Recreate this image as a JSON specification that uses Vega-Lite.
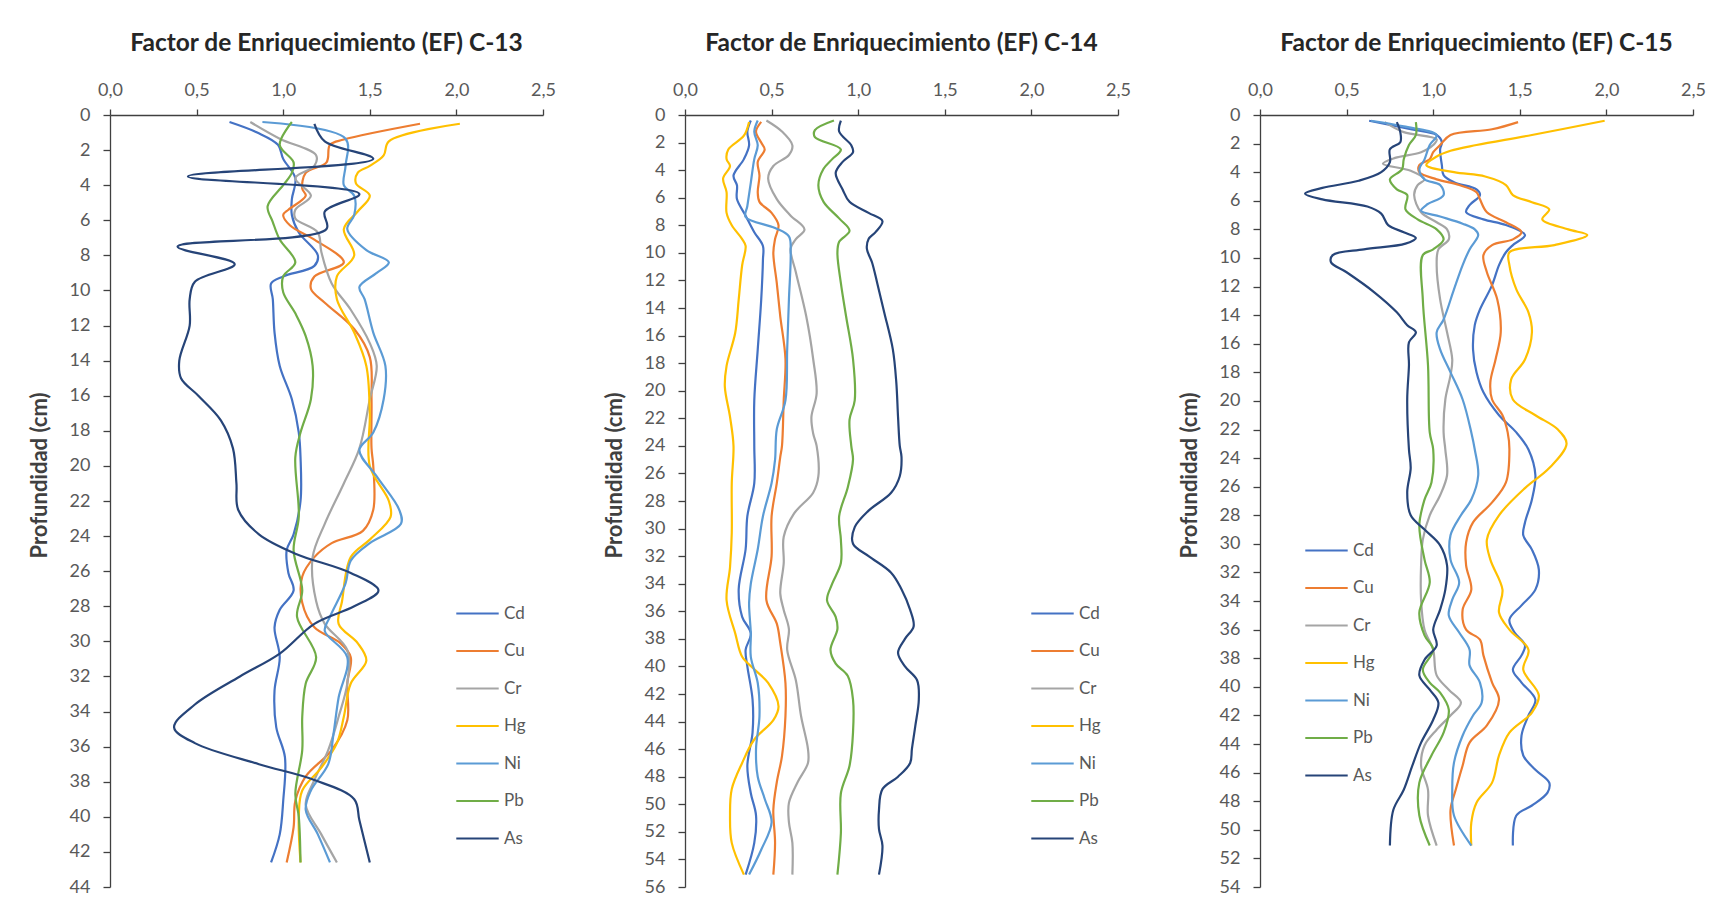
{
  "$schema": "https://vega.github.io/schema/vega-lite/v6.json",
  "padding": {"left": 28, "top": 30, "right": 5, "bottom": 5},
  "background": "white",
  "config": {
    "locale": {"number": {"decimal": ",", "thousands": ".", "grouping": [3], "currency": ["", " €"]}},
    "view": {"stroke": null},
    "font": "Lato",
    "title": {"font": "Lato", "fontSize": 24.5, "fontWeight": "bold", "color": "#262626", "offset": 25, "anchor": "middle"},
    "axis": {
      "grid": false,
      "labelFlush": false,
      "domainColor": "#404040",
      "tickColor": "#404040",
      "domainWidth": 1.3,
      "tickWidth": 1.3,
      "labelFont": "Lato",
      "labelFontSize": 18,
      "labelColor": "#595959",
      "titleFont": "Lato",
      "titleFontSize": 22,
      "titleFontWeight": "bold",
      "titleColor": "#404040"
    },
    "legend": {
      "orient": "none",
      "title": null,
      "symbolType": "stroke",
      "symbolStrokeWidth": 2.5,
      "symbolSize": 1800,
      "rowPadding": 6.5,
      "padding": 0,
      "labelFont": "Lato",
      "labelFontSize": 17,
      "labelColor": "#595959",
      "labelOffset": 4
    },
    "line": {"interpolate": "catmull-rom", "strokeWidth": 2.2}
  },
  "datasets": {
    "c13": [
      {"el":"Cd","depth":0.4,"ef":0.69},{"el":"Cd","depth":1.0,"ef":0.85},{"el":"Cd","depth":1.7,"ef":0.97},{"el":"Cd","depth":2.5,"ef":1.0},{"el":"Cd","depth":3.6,"ef":1.07},{"el":"Cd","depth":4.8,"ef":1.05},{"el":"Cd","depth":5.7,"ef":1.05},{"el":"Cd","depth":6.7,"ef":1.09},{"el":"Cd","depth":8.0,"ef":1.2},{"el":"Cd","depth":8.6,"ef":1.18},{"el":"Cd","depth":9.2,"ef":1.0},{"el":"Cd","depth":9.6,"ef":0.93},{"el":"Cd","depth":10.5,"ef":0.94},{"el":"Cd","depth":12.4,"ef":0.95},{"el":"Cd","depth":14.3,"ef":0.98},{"el":"Cd","depth":16.2,"ef":1.05},{"el":"Cd","depth":18.1,"ef":1.09},{"el":"Cd","depth":19.5,"ef":1.1},{"el":"Cd","depth":22.0,"ef":1.1},{"el":"Cd","depth":23.9,"ef":1.06},{"el":"Cd","depth":24.8,"ef":1.02},{"el":"Cd","depth":26.1,"ef":1.03},{"el":"Cd","depth":27.1,"ef":1.06},{"el":"Cd","depth":28.2,"ef":0.98},{"el":"Cd","depth":29.2,"ef":0.95},{"el":"Cd","depth":30.9,"ef":0.98},{"el":"Cd","depth":32.8,"ef":0.95},{"el":"Cd","depth":34.9,"ef":0.96},{"el":"Cd","depth":36.6,"ef":1.01},{"el":"Cd","depth":39.1,"ef":1.0},{"el":"Cd","depth":41.0,"ef":0.98},{"el":"Cd","depth":42.6,"ef":0.93},
      {"el":"Cu","depth":0.5,"ef":1.79},{"el":"Cu","depth":1.4,"ef":1.35},{"el":"Cu","depth":1.7,"ef":1.27},{"el":"Cu","depth":2.7,"ef":1.25},{"el":"Cu","depth":3.3,"ef":1.13},{"el":"Cu","depth":4.2,"ef":1.11},{"el":"Cu","depth":4.6,"ef":1.13},{"el":"Cu","depth":5.4,"ef":1.03},{"el":"Cu","depth":5.7,"ef":1.0},{"el":"Cu","depth":6.3,"ef":1.04},{"el":"Cu","depth":7.1,"ef":1.18},{"el":"Cu","depth":8.4,"ef":1.35},{"el":"Cu","depth":9.2,"ef":1.18},{"el":"Cu","depth":9.9,"ef":1.16},{"el":"Cu","depth":10.7,"ef":1.24},{"el":"Cu","depth":12.2,"ef":1.41},{"el":"Cu","depth":13.8,"ef":1.5},{"el":"Cu","depth":16.2,"ef":1.51},{"el":"Cu","depth":19.0,"ef":1.51},{"el":"Cu","depth":20.0,"ef":1.52},{"el":"Cu","depth":22.5,"ef":1.52},{"el":"Cu","depth":23.7,"ef":1.46},{"el":"Cu","depth":24.4,"ef":1.28},{"el":"Cu","depth":25.2,"ef":1.18},{"el":"Cu","depth":26.3,"ef":1.11},{"el":"Cu","depth":27.8,"ef":1.11},{"el":"Cu","depth":29.2,"ef":1.18},{"el":"Cu","depth":30.1,"ef":1.33},{"el":"Cu","depth":30.9,"ef":1.39},{"el":"Cu","depth":32.4,"ef":1.37},{"el":"Cu","depth":34.5,"ef":1.37},{"el":"Cu","depth":36.2,"ef":1.28},{"el":"Cu","depth":37.7,"ef":1.13},{"el":"Cu","depth":39.1,"ef":1.07},{"el":"Cu","depth":40.6,"ef":1.06},{"el":"Cu","depth":42.6,"ef":1.02},
      {"el":"Cr","depth":0.4,"ef":0.81},{"el":"Cr","depth":1.35,"ef":0.98},{"el":"Cr","depth":2.3,"ef":1.19},{"el":"Cr","depth":2.9,"ef":1.18},{"el":"Cr","depth":3.6,"ef":1.07},{"el":"Cr","depth":4.6,"ef":1.16},{"el":"Cr","depth":5.4,"ef":1.07},{"el":"Cr","depth":5.9,"ef":1.07},{"el":"Cr","depth":6.7,"ef":1.2},{"el":"Cr","depth":7.8,"ef":1.22},{"el":"Cr","depth":9.6,"ef":1.28},{"el":"Cr","depth":11.1,"ef":1.39},{"el":"Cr","depth":13.0,"ef":1.5},{"el":"Cr","depth":14.3,"ef":1.54},{"el":"Cr","depth":16.2,"ef":1.5},{"el":"Cr","depth":19.0,"ef":1.44},{"el":"Cr","depth":21.0,"ef":1.35},{"el":"Cr","depth":23.3,"ef":1.24},{"el":"Cr","depth":25.2,"ef":1.17},{"el":"Cr","depth":27.7,"ef":1.19},{"el":"Cr","depth":29.0,"ef":1.24},{"el":"Cr","depth":30.5,"ef":1.37},{"el":"Cr","depth":32.4,"ef":1.37},{"el":"Cr","depth":34.3,"ef":1.32},{"el":"Cr","depth":36.2,"ef":1.26},{"el":"Cr","depth":37.9,"ef":1.18},{"el":"Cr","depth":39.3,"ef":1.13},{"el":"Cr","depth":41.0,"ef":1.22},{"el":"Cr","depth":42.6,"ef":1.31},
      {"el":"Hg","depth":0.5,"ef":2.02},{"el":"Hg","depth":1.5,"ef":1.61},{"el":"Hg","depth":2.3,"ef":1.58},{"el":"Hg","depth":2.9,"ef":1.5},{"el":"Hg","depth":3.3,"ef":1.43},{"el":"Hg","depth":3.9,"ef":1.42},{"el":"Hg","depth":4.6,"ef":1.5},{"el":"Hg","depth":5.5,"ef":1.43},{"el":"Hg","depth":6.5,"ef":1.35},{"el":"Hg","depth":8.0,"ef":1.41},{"el":"Hg","depth":9.2,"ef":1.31},{"el":"Hg","depth":10.5,"ef":1.31},{"el":"Hg","depth":12.4,"ef":1.41},{"el":"Hg","depth":14.3,"ef":1.48},{"el":"Hg","depth":17.0,"ef":1.5},{"el":"Hg","depth":20.0,"ef":1.5},{"el":"Hg","depth":22.0,"ef":1.61},{"el":"Hg","depth":22.9,"ef":1.62},{"el":"Hg","depth":24.2,"ef":1.5},{"el":"Hg","depth":25.2,"ef":1.39},{"el":"Hg","depth":27.7,"ef":1.34},{"el":"Hg","depth":29.0,"ef":1.32},{"el":"Hg","depth":30.1,"ef":1.43},{"el":"Hg","depth":31.1,"ef":1.48},{"el":"Hg","depth":32.4,"ef":1.39},{"el":"Hg","depth":34.3,"ef":1.35},{"el":"Hg","depth":35.8,"ef":1.31},{"el":"Hg","depth":37.2,"ef":1.22},{"el":"Hg","depth":38.5,"ef":1.11},{"el":"Hg","depth":40.0,"ef":1.09},{"el":"Hg","depth":42.6,"ef":1.1},
      {"el":"Ni","depth":0.4,"ef":0.88},{"el":"Ni","depth":1.35,"ef":1.36},{"el":"Ni","depth":2.9,"ef":1.36},{"el":"Ni","depth":4.0,"ef":1.35},{"el":"Ni","depth":4.6,"ef":1.41},{"el":"Ni","depth":5.7,"ef":1.41},{"el":"Ni","depth":6.5,"ef":1.37},{"el":"Ni","depth":7.7,"ef":1.48},{"el":"Ni","depth":8.4,"ef":1.61},{"el":"Ni","depth":9.0,"ef":1.54},{"el":"Ni","depth":9.8,"ef":1.44},{"el":"Ni","depth":10.5,"ef":1.47},{"el":"Ni","depth":12.4,"ef":1.52},{"el":"Ni","depth":14.3,"ef":1.59},{"el":"Ni","depth":16.2,"ef":1.58},{"el":"Ni","depth":18.1,"ef":1.52},{"el":"Ni","depth":19.1,"ef":1.44},{"el":"Ni","depth":20.6,"ef":1.54},{"el":"Ni","depth":22.5,"ef":1.67},{"el":"Ni","depth":23.3,"ef":1.68},{"el":"Ni","depth":24.4,"ef":1.5},{"el":"Ni","depth":25.4,"ef":1.39},{"el":"Ni","depth":26.7,"ef":1.36},{"el":"Ni","depth":28.6,"ef":1.27},{"el":"Ni","depth":29.4,"ef":1.24},{"el":"Ni","depth":30.9,"ef":1.37},{"el":"Ni","depth":33.2,"ef":1.32},{"el":"Ni","depth":35.3,"ef":1.29},{"el":"Ni","depth":37.0,"ef":1.26},{"el":"Ni","depth":38.5,"ef":1.16},{"el":"Ni","depth":39.6,"ef":1.13},{"el":"Ni","depth":41.0,"ef":1.2},{"el":"Ni","depth":42.6,"ef":1.27},
      {"el":"Pb","depth":0.4,"ef":1.05},{"el":"Pb","depth":1.7,"ef":0.98},{"el":"Pb","depth":2.7,"ef":1.06},{"el":"Pb","depth":3.3,"ef":1.05},{"el":"Pb","depth":4.0,"ef":1.0},{"el":"Pb","depth":5.2,"ef":0.91},{"el":"Pb","depth":6.1,"ef":0.94},{"el":"Pb","depth":7.1,"ef":0.98},{"el":"Pb","depth":8.4,"ef":1.07},{"el":"Pb","depth":9.2,"ef":1.0},{"el":"Pb","depth":10.1,"ef":1.0},{"el":"Pb","depth":11.3,"ef":1.07},{"el":"Pb","depth":12.6,"ef":1.13},{"el":"Pb","depth":14.3,"ef":1.17},{"el":"Pb","depth":16.2,"ef":1.16},{"el":"Pb","depth":18.1,"ef":1.1},{"el":"Pb","depth":19.5,"ef":1.07},{"el":"Pb","depth":22.9,"ef":1.09},{"el":"Pb","depth":24.8,"ef":1.06},{"el":"Pb","depth":27.1,"ef":1.11},{"el":"Pb","depth":28.6,"ef":1.08},{"el":"Pb","depth":30.9,"ef":1.19},{"el":"Pb","depth":32.4,"ef":1.13},{"el":"Pb","depth":34.3,"ef":1.11},{"el":"Pb","depth":36.2,"ef":1.11},{"el":"Pb","depth":38.7,"ef":1.07},{"el":"Pb","depth":40.0,"ef":1.09},{"el":"Pb","depth":42.6,"ef":1.1},
      {"el":"As","depth":0.5,"ef":1.18},{"el":"As","depth":1.5,"ef":1.24},{"el":"As","depth":2.5,"ef":1.52},{"el":"As","depth":3.5,"ef":0.45},{"el":"As","depth":4.5,"ef":1.44},{"el":"As","depth":5.5,"ef":1.24},{"el":"As","depth":6.5,"ef":1.25},{"el":"As","depth":7.5,"ef":0.39},{"el":"As","depth":8.5,"ef":0.72},{"el":"As","depth":9.5,"ef":0.49},{"el":"As","depth":10.5,"ef":0.46},{"el":"As","depth":12.0,"ef":0.46},{"el":"As","depth":14.0,"ef":0.4},{"el":"As","depth":15.0,"ef":0.41},{"el":"As","depth":16.0,"ef":0.51},{"el":"As","depth":17.4,"ef":0.64},{"el":"As","depth":19.0,"ef":0.71},{"el":"As","depth":21.0,"ef":0.73},{"el":"As","depth":22.5,"ef":0.74},{"el":"As","depth":23.9,"ef":0.86},{"el":"As","depth":25.0,"ef":1.07},{"el":"As","depth":26.1,"ef":1.39},{"el":"As","depth":27.1,"ef":1.55},{"el":"As","depth":28.0,"ef":1.41},{"el":"As","depth":29.0,"ef":1.18},{"el":"As","depth":30.7,"ef":0.98},{"el":"As","depth":32.0,"ef":0.75},{"el":"As","depth":33.6,"ef":0.49},{"el":"As","depth":34.9,"ef":0.37},{"el":"As","depth":35.8,"ef":0.49},{"el":"As","depth":37.0,"ef":0.86},{"el":"As","depth":37.9,"ef":1.18},{"el":"As","depth":39.0,"ef":1.41},{"el":"As","depth":40.2,"ef":1.44},{"el":"As","depth":42.6,"ef":1.5}
    ],
    "c14": [
      {"el":"Cd","depth":0.4,"ef":0.38},{"el":"Cd","depth":1.2,"ef":0.36},{"el":"Cd","depth":2.2,"ef":0.37},{"el":"Cd","depth":3.2,"ef":0.34},{"el":"Cd","depth":4.4,"ef":0.28},{"el":"Cd","depth":5.1,"ef":0.3},{"el":"Cd","depth":6.1,"ef":0.3},{"el":"Cd","depth":7.3,"ef":0.35},{"el":"Cd","depth":8.5,"ef":0.4},{"el":"Cd","depth":9.5,"ef":0.45},{"el":"Cd","depth":10.5,"ef":0.45},{"el":"Cd","depth":13.4,"ef":0.44},{"el":"Cd","depth":17.0,"ef":0.42},{"el":"Cd","depth":20.7,"ef":0.4},{"el":"Cd","depth":24.0,"ef":0.4},{"el":"Cd","depth":26.7,"ef":0.4},{"el":"Cd","depth":29.1,"ef":0.36},{"el":"Cd","depth":31.5,"ef":0.35},{"el":"Cd","depth":34.4,"ef":0.31},{"el":"Cd","depth":36.4,"ef":0.33},{"el":"Cd","depth":37.6,"ef":0.38},{"el":"Cd","depth":38.8,"ef":0.35},{"el":"Cd","depth":40.0,"ef":0.36},{"el":"Cd","depth":42.4,"ef":0.39},{"el":"Cd","depth":44.8,"ef":0.39},{"el":"Cd","depth":47.2,"ef":0.36},{"el":"Cd","depth":49.2,"ef":0.38},{"el":"Cd","depth":50.8,"ef":0.41},{"el":"Cd","depth":52.8,"ef":0.4},{"el":"Cd","depth":55.1,"ef":0.35},
      {"el":"Cu","depth":0.5,"ef":0.44},{"el":"Cu","depth":1.2,"ef":0.41},{"el":"Cu","depth":2.0,"ef":0.44},{"el":"Cu","depth":2.5,"ef":0.46},{"el":"Cu","depth":3.4,"ef":0.42},{"el":"Cu","depth":4.4,"ef":0.43},{"el":"Cu","depth":5.6,"ef":0.42},{"el":"Cu","depth":6.3,"ef":0.43},{"el":"Cu","depth":7.1,"ef":0.5},{"el":"Cu","depth":8.0,"ef":0.54},{"el":"Cu","depth":9.0,"ef":0.52},{"el":"Cu","depth":10.0,"ef":0.51},{"el":"Cu","depth":12.2,"ef":0.53},{"el":"Cu","depth":14.6,"ef":0.55},{"el":"Cu","depth":17.7,"ef":0.58},{"el":"Cu","depth":20.7,"ef":0.57},{"el":"Cu","depth":24.0,"ef":0.56},{"el":"Cu","depth":24.8,"ef":0.55},{"el":"Cu","depth":26.7,"ef":0.53},{"el":"Cu","depth":29.1,"ef":0.5},{"el":"Cu","depth":32.0,"ef":0.5},{"el":"Cu","depth":35.2,"ef":0.47},{"el":"Cu","depth":36.9,"ef":0.53},{"el":"Cu","depth":38.3,"ef":0.55},{"el":"Cu","depth":41.2,"ef":0.58},{"el":"Cu","depth":43.6,"ef":0.58},{"el":"Cu","depth":46.5,"ef":0.56},{"el":"Cu","depth":48.4,"ef":0.53},{"el":"Cu","depth":50.4,"ef":0.51},{"el":"Cu","depth":52.8,"ef":0.52},{"el":"Cu","depth":55.1,"ef":0.51},
      {"el":"Cr","depth":0.4,"ef":0.47},{"el":"Cr","depth":1.2,"ef":0.56},{"el":"Cr","depth":2.2,"ef":0.62},{"el":"Cr","depth":2.9,"ef":0.6},{"el":"Cr","depth":3.7,"ef":0.51},{"el":"Cr","depth":4.6,"ef":0.48},{"el":"Cr","depth":6.1,"ef":0.53},{"el":"Cr","depth":7.3,"ef":0.61},{"el":"Cr","depth":8.3,"ef":0.69},{"el":"Cr","depth":9.0,"ef":0.64},{"el":"Cr","depth":9.7,"ef":0.61},{"el":"Cr","depth":11.4,"ef":0.64},{"el":"Cr","depth":14.6,"ef":0.7},{"el":"Cr","depth":17.7,"ef":0.74},{"el":"Cr","depth":20.2,"ef":0.76},{"el":"Cr","depth":21.9,"ef":0.73},{"el":"Cr","depth":23.1,"ef":0.74},{"el":"Cr","depth":24.0,"ef":0.76},{"el":"Cr","depth":26.2,"ef":0.77},{"el":"Cr","depth":27.4,"ef":0.74},{"el":"Cr","depth":28.9,"ef":0.63},{"el":"Cr","depth":30.6,"ef":0.57},{"el":"Cr","depth":32.5,"ef":0.57},{"el":"Cr","depth":34.7,"ef":0.55},{"el":"Cr","depth":35.9,"ef":0.57},{"el":"Cr","depth":37.3,"ef":0.6},{"el":"Cr","depth":38.8,"ef":0.59},{"el":"Cr","depth":41.0,"ef":0.64},{"el":"Cr","depth":43.6,"ef":0.67},{"el":"Cr","depth":46.0,"ef":0.71},{"el":"Cr","depth":47.0,"ef":0.71},{"el":"Cr","depth":48.4,"ef":0.65},{"el":"Cr","depth":49.9,"ef":0.6},{"el":"Cr","depth":51.3,"ef":0.6},{"el":"Cr","depth":52.8,"ef":0.62},{"el":"Cr","depth":55.1,"ef":0.62},
      {"el":"Hg","depth":0.5,"ef":0.37},{"el":"Hg","depth":1.5,"ef":0.34},{"el":"Hg","depth":2.5,"ef":0.25},{"el":"Hg","depth":3.2,"ef":0.24},{"el":"Hg","depth":3.7,"ef":0.26},{"el":"Hg","depth":4.6,"ef":0.22},{"el":"Hg","depth":5.6,"ef":0.24},{"el":"Hg","depth":7.1,"ef":0.24},{"el":"Hg","depth":8.0,"ef":0.27},{"el":"Hg","depth":9.0,"ef":0.33},{"el":"Hg","depth":9.5,"ef":0.35},{"el":"Hg","depth":10.9,"ef":0.33},{"el":"Hg","depth":13.4,"ef":0.31},{"el":"Hg","depth":15.8,"ef":0.29},{"el":"Hg","depth":18.2,"ef":0.24},{"el":"Hg","depth":19.7,"ef":0.23},{"el":"Hg","depth":21.9,"ef":0.26},{"el":"Hg","depth":24.0,"ef":0.28},{"el":"Hg","depth":26.7,"ef":0.27},{"el":"Hg","depth":30.3,"ef":0.27},{"el":"Hg","depth":32.8,"ef":0.26},{"el":"Hg","depth":35.2,"ef":0.24},{"el":"Hg","depth":37.6,"ef":0.29},{"el":"Hg","depth":39.3,"ef":0.33},{"el":"Hg","depth":40.2,"ef":0.4},{"el":"Hg","depth":41.2,"ef":0.48},{"el":"Hg","depth":42.9,"ef":0.54},{"el":"Hg","depth":43.9,"ef":0.51},{"el":"Hg","depth":45.3,"ef":0.4},{"el":"Hg","depth":47.0,"ef":0.33},{"el":"Hg","depth":48.9,"ef":0.27},{"el":"Hg","depth":50.8,"ef":0.26},{"el":"Hg","depth":52.8,"ef":0.27},{"el":"Hg","depth":55.1,"ef":0.34},
      {"el":"Ni","depth":0.4,"ef":0.42},{"el":"Ni","depth":1.2,"ef":0.4},{"el":"Ni","depth":2.2,"ef":0.42},{"el":"Ni","depth":3.2,"ef":0.4},{"el":"Ni","depth":4.9,"ef":0.38},{"el":"Ni","depth":6.6,"ef":0.36},{"el":"Ni","depth":7.4,"ef":0.35},{"el":"Ni","depth":8.2,"ef":0.52},{"el":"Ni","depth":8.8,"ef":0.6},{"el":"Ni","depth":10.0,"ef":0.61},{"el":"Ni","depth":13.4,"ef":0.6},{"el":"Ni","depth":17.0,"ef":0.59},{"el":"Ni","depth":20.7,"ef":0.58},{"el":"Ni","depth":22.8,"ef":0.53},{"el":"Ni","depth":25.0,"ef":0.52},{"el":"Ni","depth":26.7,"ef":0.5},{"el":"Ni","depth":29.1,"ef":0.45},{"el":"Ni","depth":31.5,"ef":0.42},{"el":"Ni","depth":34.0,"ef":0.38},{"el":"Ni","depth":35.4,"ef":0.37},{"el":"Ni","depth":37.6,"ef":0.38},{"el":"Ni","depth":39.3,"ef":0.38},{"el":"Ni","depth":41.2,"ef":0.42},{"el":"Ni","depth":43.6,"ef":0.43},{"el":"Ni","depth":46.0,"ef":0.41},{"el":"Ni","depth":48.0,"ef":0.42},{"el":"Ni","depth":49.6,"ef":0.46},{"el":"Ni","depth":51.3,"ef":0.5},{"el":"Ni","depth":53.3,"ef":0.44},{"el":"Ni","depth":55.1,"ef":0.37},
      {"el":"Pb","depth":0.4,"ef":0.86},{"el":"Pb","depth":1.1,"ef":0.75},{"el":"Pb","depth":1.6,"ef":0.75},{"el":"Pb","depth":2.5,"ef":0.9},{"el":"Pb","depth":3.2,"ef":0.85},{"el":"Pb","depth":3.9,"ef":0.8},{"el":"Pb","depth":5.1,"ef":0.77},{"el":"Pb","depth":6.3,"ef":0.8},{"el":"Pb","depth":7.5,"ef":0.89},{"el":"Pb","depth":8.4,"ef":0.95},{"el":"Pb","depth":9.2,"ef":0.89},{"el":"Pb","depth":10.0,"ef":0.88},{"el":"Pb","depth":12.2,"ef":0.9},{"el":"Pb","depth":14.6,"ef":0.93},{"el":"Pb","depth":17.7,"ef":0.97},{"el":"Pb","depth":20.7,"ef":0.98},{"el":"Pb","depth":22.1,"ef":0.95},{"el":"Pb","depth":24.0,"ef":0.96},{"el":"Pb","depth":25.0,"ef":0.97},{"el":"Pb","depth":27.0,"ef":0.94},{"el":"Pb","depth":29.1,"ef":0.89},{"el":"Pb","depth":30.8,"ef":0.9},{"el":"Pb","depth":32.5,"ef":0.9},{"el":"Pb","depth":34.0,"ef":0.85},{"el":"Pb","depth":35.2,"ef":0.82},{"el":"Pb","depth":36.4,"ef":0.87},{"el":"Pb","depth":37.3,"ef":0.88},{"el":"Pb","depth":38.8,"ef":0.84},{"el":"Pb","depth":39.8,"ef":0.87},{"el":"Pb","depth":40.7,"ef":0.94},{"el":"Pb","depth":42.4,"ef":0.97},{"el":"Pb","depth":44.8,"ef":0.97},{"el":"Pb","depth":47.2,"ef":0.95},{"el":"Pb","depth":49.2,"ef":0.9},{"el":"Pb","depth":52.1,"ef":0.9},{"el":"Pb","depth":55.1,"ef":0.88},
      {"el":"As","depth":0.4,"ef":0.9},{"el":"As","depth":1.2,"ef":0.89},{"el":"As","depth":2.2,"ef":0.96},{"el":"As","depth":2.7,"ef":0.97},{"el":"As","depth":3.4,"ef":0.91},{"el":"As","depth":4.2,"ef":0.87},{"el":"As","depth":5.4,"ef":0.91},{"el":"As","depth":6.3,"ef":0.95},{"el":"As","depth":7.1,"ef":1.06},{"el":"As","depth":7.7,"ef":1.14},{"el":"As","depth":8.5,"ef":1.1},{"el":"As","depth":9.0,"ef":1.06},{"el":"As","depth":9.7,"ef":1.05},{"el":"As","depth":10.7,"ef":1.08},{"el":"As","depth":12.2,"ef":1.11},{"el":"As","depth":14.3,"ef":1.15},{"el":"As","depth":17.0,"ef":1.2},{"el":"As","depth":19.4,"ef":1.22},{"el":"As","depth":21.9,"ef":1.23},{"el":"As","depth":24.0,"ef":1.24},{"el":"As","depth":24.8,"ef":1.25},{"el":"As","depth":26.2,"ef":1.24},{"el":"As","depth":27.4,"ef":1.19},{"el":"As","depth":28.7,"ef":1.06},{"el":"As","depth":29.9,"ef":0.98},{"el":"As","depth":31.1,"ef":0.97},{"el":"As","depth":32.0,"ef":1.06},{"el":"As","depth":33.2,"ef":1.19},{"el":"As","depth":34.4,"ef":1.25},{"el":"As","depth":35.9,"ef":1.3},{"el":"As","depth":37.1,"ef":1.32},{"el":"As","depth":38.0,"ef":1.27},{"el":"As","depth":39.0,"ef":1.23},{"el":"As","depth":40.0,"ef":1.27},{"el":"As","depth":41.0,"ef":1.34},{"el":"As","depth":42.4,"ef":1.35},{"el":"As","depth":44.3,"ef":1.33},{"el":"As","depth":46.0,"ef":1.31},{"el":"As","depth":47.0,"ef":1.3},{"el":"As","depth":48.0,"ef":1.23},{"el":"As","depth":48.9,"ef":1.14},{"el":"As","depth":50.4,"ef":1.12},{"el":"As","depth":51.8,"ef":1.12},{"el":"As","depth":53.0,"ef":1.14},{"el":"As","depth":55.1,"ef":1.12}
    ],
    "c15": [
      {"el":"Cd","depth":0.4,"ef":0.63},{"el":"Cd","depth":1.0,"ef":0.87},{"el":"Cd","depth":1.4,"ef":1.02},{"el":"Cd","depth":1.9,"ef":1.05},{"el":"Cd","depth":2.4,"ef":1.04},{"el":"Cd","depth":3.5,"ef":1.05},{"el":"Cd","depth":4.2,"ef":1.06},{"el":"Cd","depth":4.7,"ef":1.12},{"el":"Cd","depth":5.2,"ef":1.25},{"el":"Cd","depth":5.6,"ef":1.27},{"el":"Cd","depth":6.3,"ef":1.21},{"el":"Cd","depth":6.8,"ef":1.19},{"el":"Cd","depth":7.3,"ef":1.29},{"el":"Cd","depth":7.7,"ef":1.42},{"el":"Cd","depth":8.4,"ef":1.53},{"el":"Cd","depth":9.1,"ef":1.46},{"el":"Cd","depth":9.6,"ef":1.42},{"el":"Cd","depth":10.5,"ef":1.38},{"el":"Cd","depth":11.9,"ef":1.34},{"el":"Cd","depth":13.6,"ef":1.27},{"el":"Cd","depth":14.7,"ef":1.24},{"el":"Cd","depth":16.4,"ef":1.23},{"el":"Cd","depth":18.0,"ef":1.25},{"el":"Cd","depth":19.4,"ef":1.29},{"el":"Cd","depth":21.0,"ef":1.38},{"el":"Cd","depth":22.2,"ef":1.48},{"el":"Cd","depth":23.4,"ef":1.55},{"el":"Cd","depth":25.2,"ef":1.59},{"el":"Cd","depth":26.9,"ef":1.57},{"el":"Cd","depth":28.5,"ef":1.53},{"el":"Cd","depth":29.4,"ef":1.52},{"el":"Cd","depth":30.4,"ef":1.57},{"el":"Cd","depth":31.8,"ef":1.61},{"el":"Cd","depth":33.2,"ef":1.59},{"el":"Cd","depth":34.3,"ef":1.51},{"el":"Cd","depth":35.3,"ef":1.44},{"el":"Cd","depth":36.2,"ef":1.47},{"el":"Cd","depth":37.1,"ef":1.53},{"el":"Cd","depth":37.8,"ef":1.51},{"el":"Cd","depth":38.8,"ef":1.46},{"el":"Cd","depth":39.7,"ef":1.51},{"el":"Cd","depth":40.9,"ef":1.59},{"el":"Cd","depth":42.0,"ef":1.55},{"el":"Cd","depth":43.4,"ef":1.51},{"el":"Cd","depth":44.8,"ef":1.52},{"el":"Cd","depth":45.8,"ef":1.59},{"el":"Cd","depth":46.7,"ef":1.67},{"el":"Cd","depth":47.4,"ef":1.66},{"el":"Cd","depth":48.3,"ef":1.57},{"el":"Cd","depth":49.0,"ef":1.48},{"el":"Cd","depth":51.1,"ef":1.46},
      {"el":"Cu","depth":0.5,"ef":1.49},{"el":"Cu","depth":1.0,"ef":1.34},{"el":"Cu","depth":1.4,"ef":1.1},{"el":"Cu","depth":2.1,"ef":1.04},{"el":"Cu","depth":2.6,"ef":1.0},{"el":"Cu","depth":3.1,"ef":0.98},{"el":"Cu","depth":3.5,"ef":0.92},{"el":"Cu","depth":4.0,"ef":0.92},{"el":"Cu","depth":4.5,"ef":1.02},{"el":"Cu","depth":4.9,"ef":1.15},{"el":"Cu","depth":5.4,"ef":1.25},{"el":"Cu","depth":5.9,"ef":1.27},{"el":"Cu","depth":6.8,"ef":1.31},{"el":"Cu","depth":7.5,"ef":1.42},{"el":"Cu","depth":8.2,"ef":1.51},{"el":"Cu","depth":8.7,"ef":1.46},{"el":"Cu","depth":9.1,"ef":1.34},{"el":"Cu","depth":9.8,"ef":1.29},{"el":"Cu","depth":11.0,"ef":1.31},{"el":"Cu","depth":12.9,"ef":1.37},{"el":"Cu","depth":15.2,"ef":1.39},{"el":"Cu","depth":17.1,"ef":1.36},{"el":"Cu","depth":18.7,"ef":1.33},{"el":"Cu","depth":19.9,"ef":1.34},{"el":"Cu","depth":21.0,"ef":1.4},{"el":"Cu","depth":22.2,"ef":1.43},{"el":"Cu","depth":23.4,"ef":1.44},{"el":"Cu","depth":25.7,"ef":1.42},{"el":"Cu","depth":27.1,"ef":1.34},{"el":"Cu","depth":28.5,"ef":1.23},{"el":"Cu","depth":29.9,"ef":1.19},{"el":"Cu","depth":31.5,"ef":1.19},{"el":"Cu","depth":33.2,"ef":1.22},{"el":"Cu","depth":34.6,"ef":1.17},{"el":"Cu","depth":36.0,"ef":1.19},{"el":"Cu","depth":36.7,"ef":1.27},{"el":"Cu","depth":37.8,"ef":1.29},{"el":"Cu","depth":39.7,"ef":1.34},{"el":"Cu","depth":40.9,"ef":1.38},{"el":"Cu","depth":42.7,"ef":1.31},{"el":"Cu","depth":43.9,"ef":1.21},{"el":"Cu","depth":45.5,"ef":1.17},{"el":"Cu","depth":47.2,"ef":1.13},{"el":"Cu","depth":48.6,"ef":1.1},{"el":"Cu","depth":51.1,"ef":1.12},
      {"el":"Cr","depth":0.5,"ef":0.72},{"el":"Cr","depth":1.2,"ef":0.83},{"el":"Cr","depth":1.7,"ef":1.02},{"el":"Cr","depth":2.1,"ef":1.0},{"el":"Cr","depth":2.6,"ef":0.93},{"el":"Cr","depth":3.0,"ef":0.78},{"el":"Cr","depth":3.4,"ef":0.71},{"el":"Cr","depth":3.9,"ef":0.87},{"el":"Cr","depth":4.5,"ef":0.95},{"el":"Cr","depth":4.9,"ef":0.91},{"el":"Cr","depth":5.6,"ef":0.89},{"el":"Cr","depth":6.8,"ef":0.93},{"el":"Cr","depth":7.5,"ef":1.02},{"el":"Cr","depth":8.0,"ef":1.08},{"el":"Cr","depth":8.7,"ef":1.09},{"el":"Cr","depth":9.4,"ef":1.03},{"el":"Cr","depth":10.5,"ef":1.02},{"el":"Cr","depth":12.9,"ef":1.04},{"el":"Cr","depth":15.2,"ef":1.08},{"el":"Cr","depth":17.1,"ef":1.11},{"el":"Cr","depth":18.2,"ef":1.1},{"el":"Cr","depth":19.9,"ef":1.07},{"el":"Cr","depth":22.2,"ef":1.06},{"el":"Cr","depth":23.4,"ef":1.07},{"el":"Cr","depth":25.2,"ef":1.08},{"el":"Cr","depth":26.6,"ef":1.04},{"el":"Cr","depth":28.0,"ef":0.98},{"el":"Cr","depth":29.7,"ef":0.94},{"el":"Cr","depth":31.5,"ef":0.93},{"el":"Cr","depth":33.9,"ef":0.93},{"el":"Cr","depth":36.0,"ef":0.95},{"el":"Cr","depth":37.4,"ef":1.0},{"el":"Cr","depth":39.2,"ef":1.02},{"el":"Cr","depth":40.2,"ef":1.09},{"el":"Cr","depth":41.1,"ef":1.16},{"el":"Cr","depth":42.0,"ef":1.1},{"el":"Cr","depth":43.0,"ef":1.02},{"el":"Cr","depth":44.1,"ef":0.95},{"el":"Cr","depth":45.5,"ef":0.93},{"el":"Cr","depth":47.2,"ef":0.97},{"el":"Cr","depth":49.0,"ef":0.97},{"el":"Cr","depth":51.1,"ef":1.02},
      {"el":"Hg","depth":0.4,"ef":1.99},{"el":"Hg","depth":1.4,"ef":1.57},{"el":"Hg","depth":2.1,"ef":1.25},{"el":"Hg","depth":2.5,"ef":1.1},{"el":"Hg","depth":2.9,"ef":1.02},{"el":"Hg","depth":3.5,"ef":0.96},{"el":"Hg","depth":4.0,"ef":1.12},{"el":"Hg","depth":4.3,"ef":1.3},{"el":"Hg","depth":4.9,"ef":1.42},{"el":"Hg","depth":5.6,"ef":1.46},{"el":"Hg","depth":6.1,"ef":1.57},{"el":"Hg","depth":6.6,"ef":1.67},{"el":"Hg","depth":7.3,"ef":1.63},{"el":"Hg","depth":8.0,"ef":1.78},{"el":"Hg","depth":8.4,"ef":1.89},{"el":"Hg","depth":9.1,"ef":1.7},{"el":"Hg","depth":9.6,"ef":1.44},{"el":"Hg","depth":10.5,"ef":1.44},{"el":"Hg","depth":12.2,"ef":1.48},{"el":"Hg","depth":13.8,"ef":1.55},{"el":"Hg","depth":15.2,"ef":1.57},{"el":"Hg","depth":17.1,"ef":1.53},{"el":"Hg","depth":18.5,"ef":1.45},{"el":"Hg","depth":19.9,"ef":1.46},{"el":"Hg","depth":21.0,"ef":1.59},{"el":"Hg","depth":22.0,"ef":1.72},{"el":"Hg","depth":23.0,"ef":1.77},{"el":"Hg","depth":24.7,"ef":1.67},{"el":"Hg","depth":26.1,"ef":1.53},{"el":"Hg","depth":28.0,"ef":1.38},{"el":"Hg","depth":29.7,"ef":1.31},{"el":"Hg","depth":31.1,"ef":1.33},{"el":"Hg","depth":33.2,"ef":1.4},{"el":"Hg","depth":34.8,"ef":1.38},{"el":"Hg","depth":36.0,"ef":1.44},{"el":"Hg","depth":37.4,"ef":1.55},{"el":"Hg","depth":38.8,"ef":1.52},{"el":"Hg","depth":40.6,"ef":1.61},{"el":"Hg","depth":41.8,"ef":1.57},{"el":"Hg","depth":43.2,"ef":1.44},{"el":"Hg","depth":44.8,"ef":1.38},{"el":"Hg","depth":46.7,"ef":1.34},{"el":"Hg","depth":48.1,"ef":1.25},{"el":"Hg","depth":49.5,"ef":1.22},{"el":"Hg","depth":51.1,"ef":1.22},
      {"el":"Ni","depth":0.4,"ef":0.64},{"el":"Ni","depth":0.8,"ef":0.83},{"el":"Ni","depth":1.4,"ef":1.02},{"el":"Ni","depth":2.1,"ef":0.98},{"el":"Ni","depth":3.1,"ef":0.95},{"el":"Ni","depth":3.8,"ef":0.92},{"el":"Ni","depth":4.5,"ef":0.95},{"el":"Ni","depth":4.9,"ef":1.04},{"el":"Ni","depth":5.6,"ef":1.06},{"el":"Ni","depth":6.3,"ef":0.96},{"el":"Ni","depth":6.7,"ef":0.93},{"el":"Ni","depth":7.1,"ef":1.04},{"el":"Ni","depth":7.6,"ef":1.17},{"el":"Ni","depth":8.0,"ef":1.24},{"el":"Ni","depth":8.4,"ef":1.26},{"el":"Ni","depth":9.4,"ef":1.21},{"el":"Ni","depth":10.5,"ef":1.17},{"el":"Ni","depth":12.2,"ef":1.12},{"el":"Ni","depth":14.3,"ef":1.06},{"el":"Ni","depth":15.2,"ef":1.02},{"el":"Ni","depth":16.4,"ef":1.04},{"el":"Ni","depth":18.0,"ef":1.1},{"el":"Ni","depth":19.9,"ef":1.17},{"el":"Ni","depth":22.2,"ef":1.22},{"el":"Ni","depth":23.4,"ef":1.24},{"el":"Ni","depth":25.2,"ef":1.26},{"el":"Ni","depth":26.9,"ef":1.22},{"el":"Ni","depth":28.0,"ef":1.16},{"el":"Ni","depth":29.4,"ef":1.1},{"el":"Ni","depth":31.1,"ef":1.1},{"el":"Ni","depth":32.7,"ef":1.15},{"el":"Ni","depth":33.9,"ef":1.11},{"el":"Ni","depth":35.0,"ef":1.09},{"el":"Ni","depth":36.2,"ef":1.15},{"el":"Ni","depth":37.4,"ef":1.21},{"el":"Ni","depth":38.5,"ef":1.21},{"el":"Ni","depth":39.7,"ef":1.27},{"el":"Ni","depth":41.1,"ef":1.28},{"el":"Ni","depth":42.0,"ef":1.23},{"el":"Ni","depth":43.4,"ef":1.17},{"el":"Ni","depth":45.3,"ef":1.12},{"el":"Ni","depth":47.2,"ef":1.11},{"el":"Ni","depth":49.0,"ef":1.12},{"el":"Ni","depth":51.1,"ef":1.22},
      {"el":"Pb","depth":0.5,"ef":0.9},{"el":"Pb","depth":1.4,"ef":0.9},{"el":"Pb","depth":2.1,"ef":0.86},{"el":"Pb","depth":3.1,"ef":0.83},{"el":"Pb","depth":3.8,"ef":0.82},{"el":"Pb","depth":4.5,"ef":0.75},{"el":"Pb","depth":5.2,"ef":0.79},{"el":"Pb","depth":5.6,"ef":0.85},{"el":"Pb","depth":6.6,"ef":0.84},{"el":"Pb","depth":7.3,"ef":0.91},{"el":"Pb","depth":8.0,"ef":1.02},{"el":"Pb","depth":8.7,"ef":1.06},{"el":"Pb","depth":9.4,"ef":1.0},{"el":"Pb","depth":9.8,"ef":0.94},{"el":"Pb","depth":12.9,"ef":0.94},{"el":"Pb","depth":17.5,"ef":0.97},{"el":"Pb","depth":22.2,"ef":0.98},{"el":"Pb","depth":23.4,"ef":1.0},{"el":"Pb","depth":25.7,"ef":0.99},{"el":"Pb","depth":26.9,"ef":0.95},{"el":"Pb","depth":28.7,"ef":0.92},{"el":"Pb","depth":31.1,"ef":0.95},{"el":"Pb","depth":32.7,"ef":0.98},{"el":"Pb","depth":34.8,"ef":0.92},{"el":"Pb","depth":36.4,"ef":0.95},{"el":"Pb","depth":37.4,"ef":1.0},{"el":"Pb","depth":38.8,"ef":0.94},{"el":"Pb","depth":39.7,"ef":0.98},{"el":"Pb","depth":40.4,"ef":1.04},{"el":"Pb","depth":41.6,"ef":1.09},{"el":"Pb","depth":43.2,"ef":1.06},{"el":"Pb","depth":44.8,"ef":0.99},{"el":"Pb","depth":46.7,"ef":0.92},{"el":"Pb","depth":49.0,"ef":0.92},{"el":"Pb","depth":51.1,"ef":0.98},
      {"el":"As","depth":0.5,"ef":0.79},{"el":"As","depth":1.2,"ef":0.81},{"el":"As","depth":1.9,"ef":0.81},{"el":"As","depth":2.4,"ef":0.75},{"el":"As","depth":3.3,"ef":0.75},{"el":"As","depth":4.0,"ef":0.7},{"el":"As","depth":4.6,"ef":0.57},{"el":"As","depth":5.1,"ef":0.36},{"el":"As","depth":5.5,"ef":0.26},{"el":"As","depth":5.9,"ef":0.36},{"el":"As","depth":6.4,"ef":0.62},{"el":"As","depth":6.9,"ef":0.7},{"el":"As","depth":7.7,"ef":0.74},{"el":"As","depth":8.2,"ef":0.83},{"el":"As","depth":8.6,"ef":0.9},{"el":"As","depth":9.0,"ef":0.84},{"el":"As","depth":9.4,"ef":0.6},{"el":"As","depth":9.8,"ef":0.42},{"el":"As","depth":10.3,"ef":0.41},{"el":"As","depth":11.0,"ef":0.5},{"el":"As","depth":12.4,"ef":0.66},{"el":"As","depth":13.8,"ef":0.79},{"el":"As","depth":14.7,"ef":0.85},{"el":"As","depth":15.2,"ef":0.9},{"el":"As","depth":15.9,"ef":0.86},{"el":"As","depth":17.5,"ef":0.86},{"el":"As","depth":19.9,"ef":0.85},{"el":"As","depth":23.4,"ef":0.86},{"el":"As","depth":24.7,"ef":0.87},{"el":"As","depth":26.4,"ef":0.85},{"el":"As","depth":28.0,"ef":0.87},{"el":"As","depth":29.0,"ef":0.95},{"el":"As","depth":30.1,"ef":1.04},{"el":"As","depth":31.5,"ef":1.08},{"el":"As","depth":33.2,"ef":1.07},{"el":"As","depth":34.6,"ef":1.04},{"el":"As","depth":36.0,"ef":1.0},{"el":"As","depth":37.1,"ef":1.02},{"el":"As","depth":38.1,"ef":0.95},{"el":"As","depth":39.2,"ef":0.92},{"el":"As","depth":40.2,"ef":0.98},{"el":"As","depth":41.1,"ef":1.03},{"el":"As","depth":42.3,"ef":1.0},{"el":"As","depth":43.9,"ef":0.93},{"el":"As","depth":45.5,"ef":0.88},{"el":"As","depth":47.2,"ef":0.83},{"el":"As","depth":48.6,"ef":0.77},{"el":"As","depth":51.1,"ef":0.75}
    ]
  },
  "bounds": "flush",
  "spacing": 142,
  "resolve": {
    "scale": {"x": "independent", "y": "independent", "color": "independent"},
    "legend": {"color": "independent"}
  },
  "hconcat": [
    {
      "title": "Factor de Enriquecimiento (EF) C-13",
      "width": 433,
      "height": 772,
      "data": {"name": "c13"},
      "mark": {"type": "line"},
      "encoding": {
        "x": {"field": "ef", "type": "quantitative", "scale": {"domain": [0, 2.5], "nice": false},
              "axis": {"orient": "top", "title": null, "values": [0, 0.5, 1, 1.5, 2, 2.5], "format": ".1f", "tickSize": 6, "labelPadding": 10}},
        "y": {"field": "depth", "type": "quantitative", "scale": {"domain": [0, 44], "nice": false, "reverse": true},
              "axis": {"title": "Profundidad (cm)", "values": [0,2,4,6,8,10,12,14,16,18,20,22,24,26,28,30,32,34,36,38,40,42,44], "tickSize": 7, "labelPadding": 13, "titlePadding": 18, "titleY": 360}},
        "color": {"field": "el", "type": "nominal",
                  "scale": {"domain": ["Cd","Cu","Cr","Hg","Ni","Pb","As"], "range": ["#4472C4","#ED7D31","#A5A5A5","#FFC000","#5B9BD5","#70AD47","#264478"]},
                  "legend": {"legendX": 345, "legendY": 476}},
        "order": {"field": "depth", "type": "quantitative"}
      }
    },
    {
      "title": "Factor de Enriquecimiento (EF) C-14",
      "width": 433,
      "height": 772,
      "data": {"name": "c14"},
      "mark": {"type": "line"},
      "encoding": {
        "x": {"field": "ef", "type": "quantitative", "scale": {"domain": [0, 2.5], "nice": false},
              "axis": {"orient": "top", "title": null, "values": [0, 0.5, 1, 1.5, 2, 2.5], "format": ".1f", "tickSize": 6, "labelPadding": 10}},
        "y": {"field": "depth", "type": "quantitative", "scale": {"domain": [0, 56], "nice": false, "reverse": true},
              "axis": {"title": "Profundidad (cm)", "values": [0,2,4,6,8,10,12,14,16,18,20,22,24,26,28,30,32,34,36,38,40,42,44,46,48,50,52,54,56], "tickSize": 7, "labelPadding": 13, "titlePadding": 18, "titleY": 360}},
        "color": {"field": "el", "type": "nominal",
                  "scale": {"domain": ["Cd","Cu","Cr","Hg","Ni","Pb","As"], "range": ["#4472C4","#ED7D31","#A5A5A5","#FFC000","#5B9BD5","#70AD47","#264478"]},
                  "legend": {"legendX": 345, "legendY": 476}},
        "order": {"field": "depth", "type": "quantitative"}
      }
    },
    {
      "title": "Factor de Enriquecimiento (EF) C-15",
      "width": 433,
      "height": 772,
      "data": {"name": "c15"},
      "mark": {"type": "line"},
      "encoding": {
        "x": {"field": "ef", "type": "quantitative", "scale": {"domain": [0, 2.5], "nice": false},
              "axis": {"orient": "top", "title": null, "values": [0, 0.5, 1, 1.5, 2, 2.5], "format": ".1f", "tickSize": 6, "labelPadding": 10}},
        "y": {"field": "depth", "type": "quantitative", "scale": {"domain": [0, 54], "nice": false, "reverse": true},
              "axis": {"title": "Profundidad (cm)", "values": [0,2,4,6,8,10,12,14,16,18,20,22,24,26,28,30,32,34,36,38,40,42,44,46,48,50,52,54], "tickSize": 7, "labelPadding": 13, "titlePadding": 18, "titleY": 360}},
        "color": {"field": "el", "type": "nominal",
                  "scale": {"domain": ["Cd","Cu","Cr","Hg","Ni","Pb","As"], "range": ["#4472C4","#ED7D31","#A5A5A5","#FFC000","#5B9BD5","#70AD47","#264478"]},
                  "legend": {"legendX": 44, "legendY": 413}},
        "order": {"field": "depth", "type": "quantitative"}
      }
    }
  ]
}
